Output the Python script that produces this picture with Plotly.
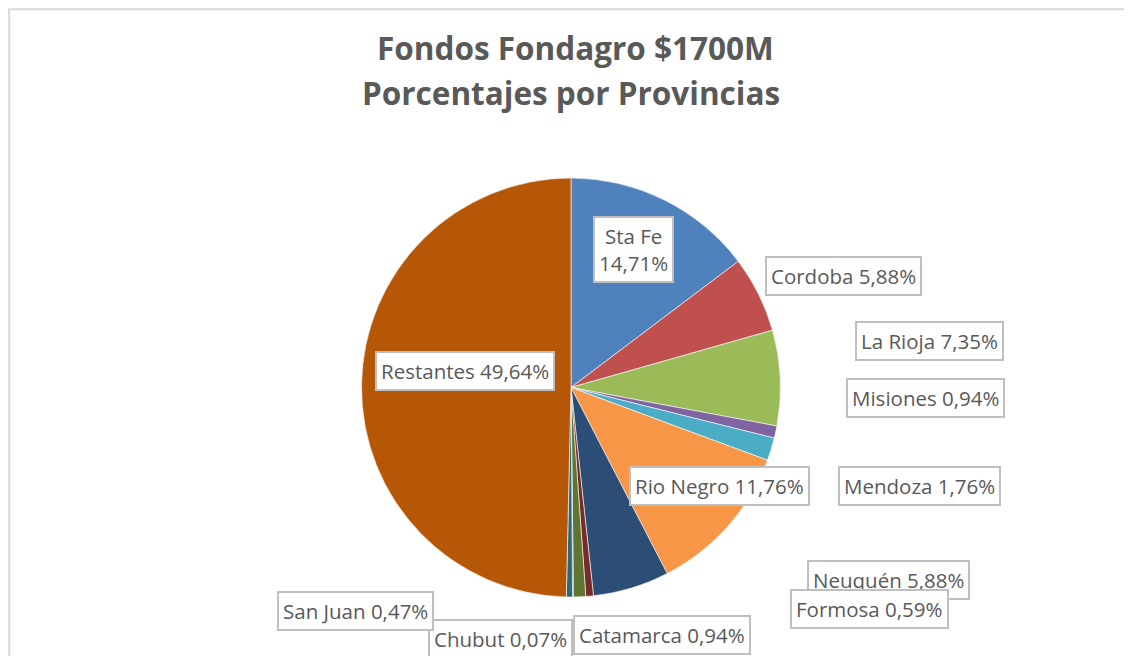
import plotly.graph_objects as go

OFF = 8  # browser page margin
W, H = 1124, 648

provinces = ["Sta Fe", "Cordoba", "La Rioja", "Misiones", "Mendoza", "Rio Negro",
             "Neuquén", "Formosa", "Catamarca", "Chubut", "San Juan", "Restantes"]
percentages = [14.71, 5.88, 7.35, 0.94, 1.76, 11.76, 5.88, 0.59, 0.94, 0.07, 0.47, 49.64]
colors = ["#4F81BD", "#C0504D", "#9BBB59", "#8064A2", "#4BACC6", "#F79646",
          "#2C4D75", "#772C2A", "#5F7530", "#4D3B62", "#276A7C", "#B65708"]
title_lines = ["Fondos Fondagro $1700M", "Porcentajes por Provincias"]

# label box centres in screen pixels (layout only)
label_pos = [(633, 249), (843, 276), (929, 341), (925, 398), (919, 486), (719, 486),
             (889, 580), (869, 609), (662, 635), (500, 639), (355, 611), (465, 371)]
title_pos = [(575, 47), (571, 92)]


def fx(px):
    return (px - OFF) / W


def fy(py):
    return 1 - (py - OFF) / H


def fmt(v):
    return f"{v:.2f}".replace(".", ",") + "%"


fig = go.Figure()
fig.add_trace(go.Pie(
    labels=provinces,
    values=percentages,
    sort=False,
    direction="clockwise",
    rotation=0,
    marker=dict(colors=colors, line=dict(color="white", width=0.6)),
    textinfo="none",
    hoverinfo="label+percent",
    showlegend=False,
    domain=dict(x=[fx(361.5), fx(780.5)], y=[fy(597), fy(178)]),
))

annotations = []
for name, val, (px, py) in zip(provinces, percentages, label_pos):
    sep = "<br>" if name == "Sta Fe" else " "
    annotations.append(dict(
        x=fx(px), y=fy(py), xref="paper", yref="paper",
        text=f"{name}{sep}{fmt(val)}", showarrow=False,
        xanchor="center", yanchor="middle",
        font=dict(family="Open Sans", size=20.5, color="#595959"),
        bgcolor="white", bordercolor="#BFBFBF", borderwidth=2, borderpad=4,
    ))

for line, (px, py) in zip(title_lines, title_pos):
    annotations.append(dict(
        x=fx(px), y=fy(py), xref="paper", yref="paper",
        text=f"<b>{line}</b>", showarrow=False,
        xanchor="center", yanchor="middle",
        font=dict(family="Open Sans", size=31.5, color="#595959"),
    ))

fig.update_layout(
    width=W, height=H,
    margin=dict(l=0, r=0, t=0, b=0),
    paper_bgcolor="white",
    annotations=annotations,
    shapes=[dict(type="rect", xref="paper", yref="paper",
                 x0=1.2 / W, x1=1.05, y0=-0.05, y1=1 - 1.2 / H,
                 line=dict(color="#D9D9D9", width=2), layer="below")],
)

fig.write_html("out.html")
